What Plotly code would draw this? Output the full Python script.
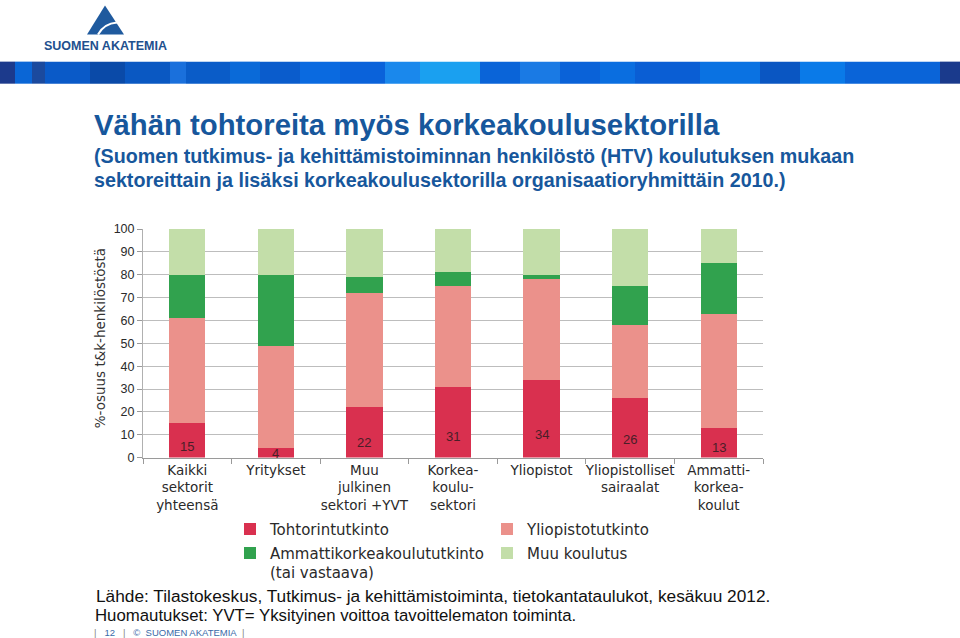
import plotly.graph_objects as go

# ---------------- data ----------------
categories = ["Kaikki sektorit yhteensä", "Yritykset", "Muu julkinen sektori +YVT",
              "Korkeakoulusektori", "Yliopistot", "Yliopistolliset sairaalat",
              "Ammattikorkeakoulut"]
category_labels = ["Kaikki<br>sektorit<br>yhteensä", "Yritykset", "Muu<br>julkinen<br>sektori +YVT",
                   "Korkea-<br>koulu-<br>sektori", "Yliopistot", "Yliopistolliset<br>sairaalat",
                   "Ammatti-<br>korkea-<br>koulut"]
tohtori = [15, 4, 22, 31, 34, 26, 13]
yliopisto = [46, 45, 50, 44, 44, 32, 50]
amk = [19, 31, 7, 6, 2, 17, 22]
muu = [20, 20, 21, 19, 20, 25, 15]
series_names = ["Tohtorintutkinto", "Yliopistotutkinto",
                "Ammattikorkeakoulututkinto<br>(tai vastaava)", "Muu koulutus"]
y_ticks = [0, 10, 20, 30, 40, 50, 60, 70, 80, 90, 100]

colors = ["#d9304f", "#eb918b", "#31a24e", "#c3dea9"]

W, H = 960, 646
TOP, SQ = 7.5, 0.976
def px(x):
    return x / W
def py(y):
    return 1 - ((y - TOP) / SQ) / H

CHART_FONT = "DejaVu Sans"

fig = go.Figure()
for vals, name, col, lg in zip([tohtori, yliopisto, amk, muu], series_names, colors,
                               ["legend", "legend", "legend2", "legend2"]):
    fig.add_trace(go.Bar(x=categories, y=vals, name=name, marker=dict(color=col, line=dict(width=0)),
                         legend=lg, hoverinfo="skip"))

# data labels for doctorate share
annotations = []
for c, v in zip(categories, tohtori):
    annotations.append(dict(x=c, y=v * 0.28 + 0.6, xref="x", yref="y", text=str(v), showarrow=False,
                            font=dict(family="Liberation Sans", size=13, color="#4a1e28")))

# y-axis title
annotations.append(dict(x=px(90), y=py(338), xref="paper", yref="paper", text="%-osuus t&k-henkilöstöstä",
                        textangle=-90, showarrow=False,
                        font=dict(family=CHART_FONT, size=13.5, color="#333333")))

# titles
TITLE_BLUE = "#17579c"
annotations.append(dict(x=px(92), y=py(125), xref="paper", yref="paper", xanchor="left", yanchor="middle",
                        text="<b>Vähän tohtoreita myös korkeakoulusektorilla</b>", showarrow=False,
                        font=dict(family="Liberation Sans", size=29.3, color=TITLE_BLUE)))
annotations.append(dict(x=px(92), y=py(156), xref="paper", yref="paper", xanchor="left", yanchor="middle",
                        text="<b>(Suomen tutkimus- ja kehittämistoiminnan henkilöstö (HTV) koulutuksen mukaan</b>",
                        showarrow=False, font=dict(family="Liberation Sans", size=19.7, color=TITLE_BLUE)))
annotations.append(dict(x=px(92), y=py(180), xref="paper", yref="paper", xanchor="left", yanchor="middle",
                        text="<b>sektoreittain ja lisäksi korkeakoulusektorilla organisaatioryhmittäin 2010.)</b>",
                        showarrow=False, font=dict(family="Liberation Sans", size=19.7, color=TITLE_BLUE)))

# footer
annotations.append(dict(x=px(94), y=py(595), xref="paper", yref="paper", xanchor="left", yanchor="middle",
                        text="Lähde: Tilastokeskus, Tutkimus- ja kehittämistoiminta, tietokantataulukot, kesäkuu 2012.",
                        showarrow=False, font=dict(family="Liberation Sans", size=17.3, color="#111111")))
annotations.append(dict(x=px(94), y=py(614.5), xref="paper", yref="paper", xanchor="left", yanchor="middle",
                        text="Huomautukset: YVT= Yksityinen voittoa tavoittelematon toiminta.",
                        showarrow=False, borderpad=0,
                        font=dict(family="Liberation Sans", size=16.8, color="#111111")))
SEP = "<span style='color:#8a8a8a'>|</span>"
annotations.append(dict(x=px(93), y=py(631.5), xref="paper", yref="paper", xanchor="left", yanchor="middle",
                        text=f"{SEP}&nbsp;&nbsp;&nbsp;12&nbsp;&nbsp;&nbsp;{SEP}&nbsp;&nbsp;&nbsp;©&nbsp;&nbsp;SUOMEN AKATEMIA&nbsp;&nbsp;{SEP}",
                        showarrow=False, borderpad=0,
                        font=dict(family="Liberation Sans", size=9.5, color="#3a6aa8")))

# logo text
annotations.append(dict(x=px(105), y=py(46), xref="paper", yref="paper", xanchor="center", yanchor="middle",
                        text="<b>SUOMEN AKATEMIA</b>", showarrow=False,
                        font=dict(family="Liberation Sans", size=12.5, color="#22508e")))

shapes = []
# blue decorative band
stripes = [(0, 15, "#1c3a8c"), (15, 32, "#0a66d6"), (32, 45, "#1b4a9e"), (45, 90, "#0a5ac8"),
           (90, 125, "#0a4aa8"), (125, 170, "#0a58c2"), (170, 186, "#1a70dc"), (186, 230, "#0a5cc8"),
           (230, 260, "#0a6ad8"), (260, 300, "#0a5ccc"), (300, 340, "#0a6ae0"), (340, 385, "#0a62da"),
           (385, 420, "#1a88ec"), (420, 480, "#1aa0f0"), (480, 520, "#0a64d8"), (520, 560, "#1a7ae4"),
           (560, 600, "#0a62d8"), (600, 635, "#0a6ee0"), (635, 700, "#0a5ed4"), (700, 760, "#0a72e2"),
           (760, 800, "#0a56c2"), (800, 845, "#0a7ae8"), (845, 940, "#0a64d8"), (940, 960, "#1a3a8c")]
for x0, x1, c in stripes:
    shapes.append(dict(type="rect", xref="paper", yref="paper", x0=px(x0), x1=px(x1), y0=py(84), y1=py(62),
                       fillcolor=c, line=dict(width=0), layer="below"))
# logo triangle
shapes.append(dict(type="path", xref="paper", yref="paper",
                   path=f"M {px(105)},{py(6)} L {px(124)},{py(35)} L {px(87)},{py(35)} Z",
                   fillcolor="#1f5a9e", line=dict(width=0)))
shapes.append(dict(type="path", xref="paper", yref="paper",
                   path=f"M {px(98)},{py(35)} Q {px(104)},{py(24)} {px(117)},{py(23)}",
                   fillcolor="rgba(0,0,0,0)", line=dict(color="white", width=2)))

fig.update_layout(
    width=W, height=H,
    margin=dict(l=0, r=0, t=0, b=0),
    paper_bgcolor="white", plot_bgcolor="white",
    barmode="stack", bargap=0.59,
    showlegend=True,
    xaxis=dict(domain=[px(143), px(763)], tickmode="array", tickvals=categories, ticktext=category_labels,
               tickson="boundaries", ticks="outside", ticklen=5, tickcolor="#9a9a9a", tickangle=0,
               showline=True, linecolor="#9a9a9a", linewidth=1, showgrid=False,
               tickfont=dict(family=CHART_FONT, size=13.5, color="#2a2a2a")),
    yaxis=dict(domain=[py(457), py(229)], range=[0, 100], tickvals=y_ticks,
               ticks="outside", ticklen=5, tickcolor="#9a9a9a",
               showline=True, linecolor="#b0b0b0", linewidth=1,
               showgrid=True, gridcolor="#bdbdbd", gridwidth=1, zeroline=False,
               tickfont=dict(family="Liberation Sans", size=12.5, color="#2a2a2a")),
    legend=dict(orientation="h", x=px(230), y=py(512), xanchor="left", yanchor="top",
                entrywidth=212, entrywidthmode="pixels", traceorder="normal",
                font=dict(family=CHART_FONT, size=15, color="#2a2a2a"), bgcolor="rgba(0,0,0,0)",
                itemclick=False, itemdoubleclick=False, tracegroupgap=0, valign="top"),
    legend2=dict(orientation="h", x=px(230), y=py(536), xanchor="left", yanchor="top",
                 entrywidth=212, entrywidthmode="pixels", traceorder="normal",
                 font=dict(family=CHART_FONT, size=15, color="#2a2a2a"), bgcolor="rgba(0,0,0,0)",
                 itemclick=False, itemdoubleclick=False, tracegroupgap=0, valign="top"),
    annotations=annotations,
    shapes=shapes,
)

fig.write_html("out.html", config={"displayModeBar": False},
               post_script="document.body.style.margin='0';document.body.style.overflow='hidden';")
